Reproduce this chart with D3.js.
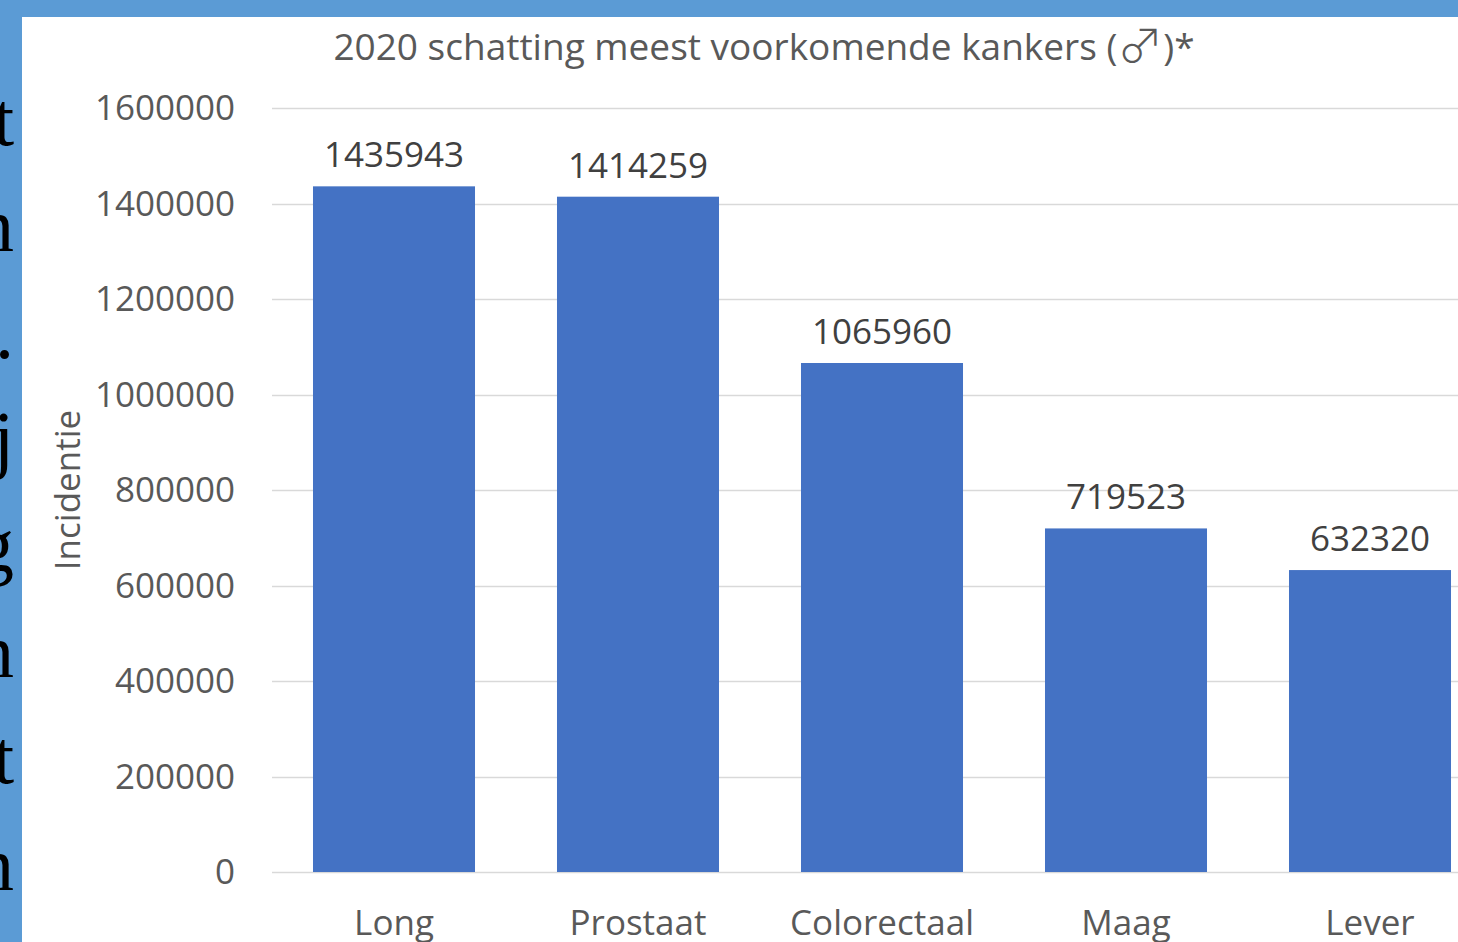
<!DOCTYPE html>
<html>
<head>
<meta charset="utf-8">
<script src="https://cdn.jsdelivr.net/npm/d3@7"></script>
<style>
  html, body { margin: 0; padding: 0; background: #5B9BD5; overflow: hidden; }
  svg { display: block; }
</style>
</head>
<body>
<svg id="chart" width="1458" height="942"></svg>
<script>
const categories = ["Long", "Prostaat", "Colorectaal", "Maag", "Lever"];
const values = [1435943, 1414259, 1065960, 719523, 632320];
const yTicks = [0, 200000, 400000, 600000, 800000, 1000000, 1200000, 1400000, 1600000];
const titleParts = ["2020 schatting meest voorkomende kankers (", "\u2642", ")*"];
const yAxisTitle = "Incidentie";
const sideLetters = ["t", "n", ".", "j", "g", "n", "t", "n"];

const W = 1458, H = 942;
const svg = d3.select("#chart");

// background frame
svg.append("rect").attr("x", 0).attr("y", 0).attr("width", W).attr("height", H).attr("fill", "#5B9BD5");
svg.append("rect").attr("x", 22).attr("y", 17).attr("width", W - 22).attr("height", H - 17).attr("fill", "#ffffff");

// side letters (cut-off slide text)
svg.append("g").selectAll("text").data(sideLetters).join("text")
  .attr("x", 14)
  .attr("y", (d, i) => 145 + i * 106.4)
  .attr("text-anchor", "end")
  .attr("font-family", "'Liberation Serif', 'DejaVu Serif', serif")
  .attr("font-size", 76)
  .attr("fill", "#000")
  .text(d => d);

const fontFam = "'Open Sans', 'Noto Sans', sans-serif";
const fs = 35;

const y = d3.scaleLinear().domain([0, 1600000]).range([872, 108]);
const x = d3.scaleBand().domain(categories).range([272, 1492]).paddingInner(0.336).paddingOuter(0.168);

// gridlines
svg.append("g").selectAll("line").data(yTicks).join("line")
  .attr("x1", 272).attr("x2", W)
  .attr("y1", d => Math.round(y(d)) + 0.5).attr("y2", d => Math.round(y(d)) + 0.5)
  .attr("stroke", "#d9d9d9").attr("stroke-width", 1.3);

// y tick labels via axis
const yAxis = d3.axisLeft(y).tickValues(yTicks).tickSize(0).tickPadding(0).tickFormat(d3.format("d"));
const yg = svg.append("g").attr("transform", "translate(235,0)").call(yAxis);
yg.select(".domain").remove();
yg.selectAll("text")
  .attr("font-family", fontFam).attr("font-size", fs).attr("fill", "#595959")
  .attr("dy", "0.34em");

// bars
svg.append("g").selectAll("rect").data(values).join("rect")
  .attr("x", (d, i) => x(categories[i]))
  .attr("y", d => y(d))
  .attr("width", x.bandwidth())
  .attr("height", d => y(0) - y(d))
  .attr("fill", "#4472C4");

// data labels
svg.append("g").selectAll("text").data(values).join("text")
  .attr("x", (d, i) => x(categories[i]) + x.bandwidth() / 2)
  .attr("y", d => y(d) - 19)
  .attr("text-anchor", "middle")
  .attr("font-family", fontFam).attr("font-size", fs).attr("fill", "#404040")
  .text(d => d);

// x axis labels
const xAxis = d3.axisBottom(x).tickSize(0).tickPadding(0);
const xg = svg.append("g").attr("transform", "translate(0,935)").call(xAxis);
xg.select(".domain").remove();
xg.selectAll("text")
  .attr("font-family", fontFam).attr("font-size", fs).attr("fill", "#595959")
  .attr("dy", 0);

// title
const title = svg.append("text")
  .attr("x", 764).attr("y", 60)
  .attr("text-anchor", "middle")
  .attr("font-family", fontFam).attr("font-size", 37).attr("fill", "#595959");
title.append("tspan").text(titleParts[0]);
title.append("tspan").attr("font-family", "'Noto Sans CJK JP', 'DejaVu Sans', sans-serif").attr("font-weight", 300).attr("font-size", 46).attr("dy", 2).text(titleParts[1]);
title.append("tspan").attr("dy", -2).text(titleParts[2]);

// y axis title
svg.append("text")
  .attr("transform", "translate(80,490) rotate(-90)")
  .attr("text-anchor", "middle")
  .attr("font-family", fontFam).attr("font-size", fs).attr("fill", "#595959")
  .text(yAxisTitle);
</script>
</body>
</html>
